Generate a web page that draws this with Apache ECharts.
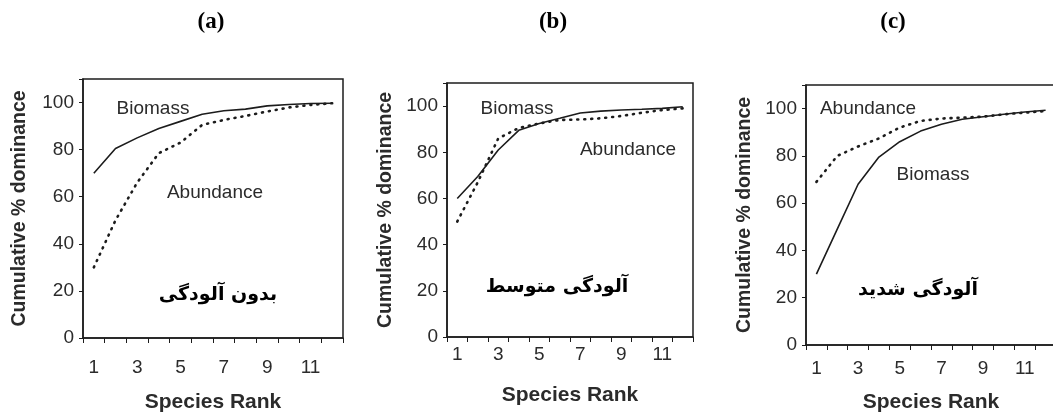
<!DOCTYPE html>
<html>
<head>
<meta charset="utf-8">
<script src="https://cdn.jsdelivr.net/npm/echarts@6/dist/echarts.min.js"></script>
<style>
html, body { margin: 0; padding: 0; background: #fff; }
#main { width: 1053px; height: 413px; }
</style>
</head>
<body>
<div id="main"></div>
<script>
// species rank, 1..12
var ranks = ['1', '2', '3', '4', '5', '6', '7', '8', '9', '10', '11', '12'];

// (a) no pollution
var biomassA = [70, 80.5, 85, 89, 92, 95, 96.5, 97.2, 98.6, 99.2, 99.6, 99.7];
var abundanceA = [30, 50, 66, 78.5, 83, 90.5, 92.6, 94.3, 96.2, 97.9, 99, 99.7];
// (b) moderate pollution
var biomassB = [60, 69.5, 81, 89.5, 92.5, 94.7, 97, 97.8, 98.3, 98.6, 99, 99.7];
var abundanceB = [50, 67, 86, 90.5, 92.5, 94, 94.2, 94.7, 95.7, 97.1, 98.3, 99];
// (c) heavy pollution
var biomassC = [30, 49, 68, 79.5, 86, 90.5, 93.4, 95.5, 96.6, 97.6, 98.6, 99.3];
var abundanceC = [69, 80, 84, 87.4, 92, 94.8, 95.8, 96.2, 96.6, 97.6, 98.3, 99];

var yTicks = [0, 20, 40, 60, 80, 100];

var lineColor = '#1c1c1c';
var textColor = '#2b2b2b';
var sans = 'Liberation Sans, Arial, sans-serif';

var grids = [
    {left: 83, top: 79, width: 260, height: 259},
    {left: 447, top: 83, width: 246, height: 254},
    {left: 806, top: 85, width: 250, height: 260}
];

// label margin and name gap differ a bit per panel in the scan
function makeX(i, labelMargin, nameGap) {
    return {
        type: 'category',
        gridIndex: i,
        data: ranks,
        boundaryGap: true,
        name: 'Species Rank',
        nameLocation: 'middle',
        nameGap: nameGap,
        nameTextStyle: {color: textColor, fontFamily: sans, fontWeight: 'bold', fontSize: 21},
        axisLine: {lineStyle: {color: lineColor, width: 1.5}},
        axisTick: {show: true, interval: 0, length: 5, lineStyle: {color: lineColor}},
        axisLabel: {interval: 1, margin: labelMargin, color: textColor, fontFamily: sans, fontSize: 19},
        splitLine: {show: false}
    };
}

function makeY(i, nameGap) {
    return {
        type: 'value',
        gridIndex: i,
        min: 0,
        max: 110,
        interval: 20,
        name: 'Cumulative % dominance',
        nameLocation: 'middle',
        nameGap: nameGap,
        nameTextStyle: {color: textColor, fontFamily: sans, fontWeight: 'bold', fontSize: 19.5},
        axisLine: {show: true, lineStyle: {color: lineColor, width: 1.5}},
        axisTick: {show: true, length: 4, lineStyle: {color: lineColor}},
        axisLabel: {
            margin: 9, color: textColor, fontFamily: sans, fontSize: 19,
            formatter: function(v) { return yTicks.indexOf(v) >= 0 ? String(v) : ''; }
        },
        splitLine: {show: false}
    };
}

function solid(i, data) {
    return {
        type: 'line', xAxisIndex: i, yAxisIndex: i, data: data,
        symbol: 'none', smooth: false,
        lineStyle: {color: lineColor, width: 1.6}
    };
}

function dotted(i, data) {
    return {
        type: 'line', xAxisIndex: i, yAxisIndex: i, data: data,
        symbol: 'none', smooth: false,
        lineStyle: {color: lineColor, width: 2.6, type: [1, 6], cap: 'round'}
    };
}

function text(x, y, str, opts) {
    opts = opts || {};
    return {
        type: 'text', x: x, y: y,
        style: {
            text: str,
            fill: opts.color || textColor,
            fontSize: opts.size || 19,
            fontWeight: opts.weight || 'normal',
            fontFamily: opts.family || sans,
            align: 'center', verticalAlign: 'middle'
        }
    };
}

var serif = 'Liberation Serif, Times New Roman, serif';
var persian = 'DejaVu Sans, Noto Sans, sans-serif';

var chart = echarts.init(document.getElementById('main'), null, {renderer: 'canvas'});

var option = {
    backgroundColor: '#fff',
    animation: false,
    // grids are placed exactly, no auto shrink for labels
    grid: grids.map(function(g) {
        return {left: g.left, top: g.top, width: g.width, height: g.height,
            outerBoundsMode: 'none', containLabel: false,
            show: true, borderColor: lineColor, borderWidth: 1.5, backgroundColor: 'transparent'};
    }),
    xAxis: [makeX(0, 20, 54), makeX(1, 8, 48), makeX(2, 14, 47)],
    yAxis: [makeY(0, 53), makeY(1, 51), makeY(2, 51)],
    series: [
        solid(0, biomassA), dotted(0, abundanceA),
        solid(1, biomassB), dotted(1, abundanceB),
        solid(2, biomassC), dotted(2, abundanceC)
    ],
    graphic: [
        // panel titles
        text(211, 22, '(a)', {size: 23, weight: 'bold', family: serif, color: '#000'}),
        text(553, 22, '(b)', {size: 23, weight: 'bold', family: serif, color: '#000'}),
        text(893, 22, '(c)', {size: 23, weight: 'bold', family: serif, color: '#000'}),
        // curve labels
        text(153, 109, 'Biomass'),
        text(215, 193, 'Abundance'),
        text(517, 109, 'Biomass'),
        text(628, 150, 'Abundance'),
        text(868, 109, 'Abundance'),
        text(933, 175, 'Biomass'),
        // pollution level
        text(218, 295, 'بدون آلودگی', {weight: 'bold', family: persian, color: '#000'}),
        text(557, 287, 'آلودگی متوسط', {weight: 'bold', family: persian, color: '#000'}),
        text(918, 290, 'آلودگی شدید', {weight: 'bold', family: persian, color: '#000'})
    ]
};

chart.setOption(option);
</script>
</body>
</html>
